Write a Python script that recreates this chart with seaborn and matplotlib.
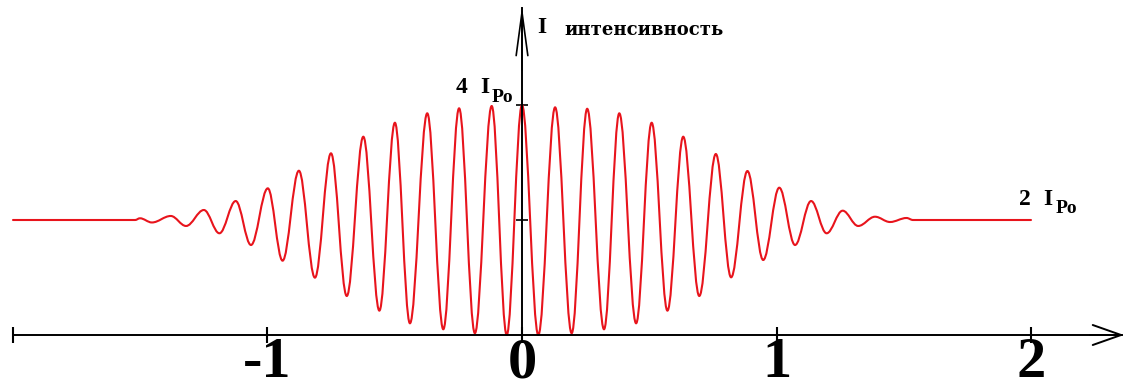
import numpy as np
import pandas as pd
import matplotlib
matplotlib.use("Agg")
import matplotlib.pyplot as plt
import seaborn as sns
from matplotlib.path import Path
from matplotlib.patches import PathPatch

# ---------------- data (x in units, I in units of I_Po) -------------
flat_left_x = [-2.0, -1.519]
flat_right_x = [1.535, 2.0]
flat_i = [2.0, 2.0]

# successive maxima / minima of the interference curve, left to right
ext_x = [-1.500, -1.453, -1.379, -1.319, -1.249, -1.188, -1.124, -1.064, -0.998, -0.940,
         -0.876, -0.813, -0.750, -0.688, -0.623, -0.560, -0.499, -0.440, -0.372, -0.309,
         -0.247, -0.185, -0.119, -0.060, 0.000, 0.064, 0.130, 0.195, 0.256, 0.322,
         0.382, 0.448, 0.509, 0.571, 0.633, 0.696, 0.761, 0.821, 0.885, 0.947,
         1.010, 1.072, 1.135, 1.196, 1.259, 1.320, 1.386, 1.445, 1.510]
ext_i = [2.03, 1.957, 2.070, 1.896, 2.174, 1.769, 2.330, 1.565, 2.551, 1.292,
         2.857, 0.997, 3.160, 0.678, 3.449, 0.423, 3.692, 0.203, 3.856, 0.099,
         3.943, 0.030, 3.983, 0.0, 4.0, 0.0, 3.960, 0.030, 3.935, 0.099,
         3.856, 0.203, 3.692, 0.423, 3.449, 0.678, 3.148, 1.003, 2.852, 1.304,
         2.562, 1.565, 2.330, 1.769, 2.162, 1.896, 2.057, 1.965, 2.035]

x_ticks = [-2, -1, 0, 1, 2]
x_tick_labels = ["", "-1", "0", "1", "2"]
y_ticks = [2, 4]

# ---------------- style ----------------
sns.set_theme(style="white")
plt.rcParams["font.family"] = ["Liberation Serif", "DejaVu Serif"]

RED = "#e8141c"
W, H = 1126, 390
fig = plt.figure(figsize=(W / 100, H / 100), dpi=100)
ax = fig.add_axes([0, 0, 1, 1])
fig.patch.set_facecolor("white")
ax.set_facecolor("white")

X0, XS, Y0, YS = 522, 254.7, 335, 57.5   # pixel mapping


def px(x):
    return (x - X0) / XS


def py(y):
    return (Y0 - y) / YS


ax.set_xlim(px(0), px(W))
ax.set_ylim(py(H), py(0))

# flat parts of the curve (seaborn)
df = pd.DataFrame({"x": flat_left_x + flat_right_x,
                   "i": flat_i + flat_i,
                   "part": ["left"] * 2 + ["right"] * 2})
sns.lineplot(data=df, x="x", y="i", units="part", estimator=None,
             color=RED, lw=1.5, ax=ax, legend=False)

# oscillating part drawn as a smooth curve through the read extrema
pts_x = [flat_left_x[-1]] + ext_x + [flat_right_x[0]]
pts_i = [flat_i[-1]] + ext_i + [flat_i[0]]
k = 0.3634
verts = [(pts_x[0], pts_i[0])]
codes = [Path.MOVETO]
for j in range(1, len(pts_x)):
    x0, y0 = pts_x[j - 1], pts_i[j - 1]
    x1, y1 = pts_x[j], pts_i[j]
    d = x1 - x0
    verts += [(x0 + k * d, y0), (x1 - k * d, y1), (x1, y1)]
    codes += [Path.CURVE4] * 3
ax.add_patch(PathPatch(Path(verts, codes), facecolor="none", edgecolor=RED,
                       lw=1.5, joinstyle="round", capstyle="round"))

ax.set_xlabel("")
ax.set_ylabel("")

# axes through the origin
for s in ["top", "right"]:
    ax.spines[s].set_visible(False)
ax.spines["bottom"].set_position(("data", 0))
ax.spines["left"].set_position(("data", 0))
ax.spines["bottom"].set_bounds(-2.0, px(1122))
ax.spines["left"].set_bounds(py(342), py(8))
for s in ["bottom", "left"]:
    ax.spines[s].set_color("black")
    ax.spines[s].set_linewidth(1.4)

ax.set_xticks(x_ticks)
ax.set_xticklabels(x_tick_labels)
ax.set_yticks(y_ticks)
ax.set_yticklabels([])
ax.tick_params(axis="x", bottom=True, direction="inout", length=11, width=1.5,
               color="black", pad=-4, labelsize=42, labelcolor="black")
ax.tick_params(axis="y", left=True, direction="inout", length=8, width=1.2,
               color="black")
for lab in ax.get_xticklabels():
    lab.set_fontweight("bold")
    lab.set_family("Liberation Serif")

# arrow heads
ax.annotate("", xy=(px(1124), 0), xytext=(px(1090), 0),
            arrowprops=dict(arrowstyle="->,head_length=1.7,head_width=0.6",
                            lw=1.4, color="black", shrinkA=0, shrinkB=0))
ax.annotate("", xy=(0, py(6)), xytext=(0, py(70)),
            arrowprops=dict(arrowstyle="->,head_length=2.6,head_width=0.35",
                            lw=1.2, color="black", shrinkA=0, shrinkB=0))

# labels
bold = dict(fontweight="bold", color="black", ha="left", va="baseline",
            family=["Liberation Serif"])
ax.text(px(456), py(93), "4", fontsize=17, **bold)
ax.text(px(480), py(93), "I", fontsize=17, **bold)
ax.text(px(492), py(102), "Po", fontsize=14, **bold)

ax.text(px(1019), py(205), "2", fontsize=17, **bold)
ax.text(px(1043), py(205), "I", fontsize=17, **bold)
ax.text(px(1056), py(213), "Po", fontsize=14, **bold)

ax.text(px(537), py(33), "I", fontsize=17, **bold)
ax.text(px(564), py(35), "интенсивность", fontsize=13, fontweight="bold",
        ha="left", va="baseline", color="black", family=["DejaVu Serif"])

fig.savefig("out.png", dpi=100, facecolor="white")
